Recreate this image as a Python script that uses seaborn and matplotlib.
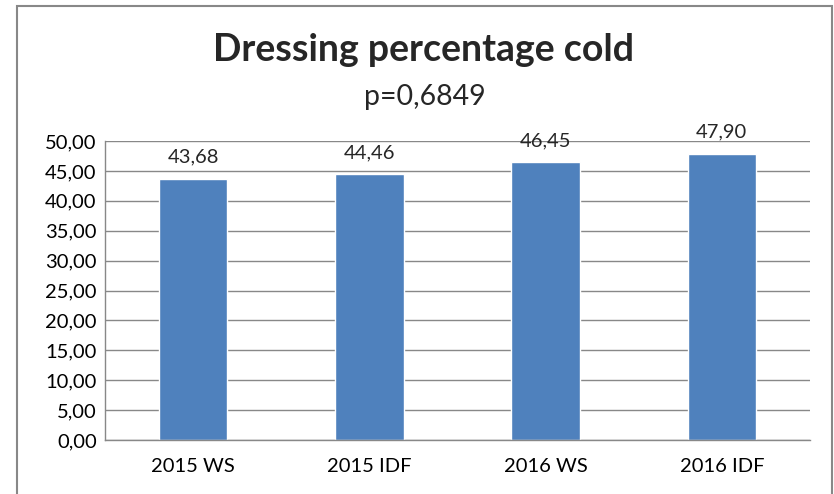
import matplotlib
matplotlib.use("Agg")
import matplotlib.pyplot as plt
import seaborn as sns
import pandas as pd
from matplotlib.patches import Rectangle
from matplotlib.ticker import FuncFormatter

categories = ["2015 WS", "2015 IDF", "2016 WS", "2016 IDF"]
values = [43.68, 44.46, 46.45, 47.90]
title = "Dressing percentage cold"
subtitle = "p=0,6849"
yticks = [0, 5, 10, 15, 20, 25, 30, 35, 40, 45, 50]

sns.set_theme(style="white")
plt.rcParams['font.family'] = ['Lato', 'DejaVu Sans']

W, H = 834, 494
fig = plt.figure(figsize=(W / 100, H / 100), dpi=100)
ax = fig.add_axes([105 / W, 1 - 440 / H, (810 - 105) / W, (440 - 141) / H])

df = pd.DataFrame({"cat": categories, "val": values})
sns.barplot(data=df, x="cat", y="val", color="#4F81BD", saturation=1, width=0.39, ax=ax)

ax.set_ylim(0, 50)
ax.set_yticks(yticks)
ax.yaxis.set_major_formatter(FuncFormatter(lambda v, p: f"{v:.2f}".replace(".", ",")))
ax.set_xlim(-0.5, len(categories) - 0.5)
ax.grid(axis="y", color="#888888", linewidth=1)
ax.set_axisbelow(True)
ax.set_xlabel("")
ax.set_ylabel("")
for s in ["top", "right"]:
    ax.spines[s].set_visible(False)
for s in ["left", "bottom"]:
    ax.spines[s].set_color("#888888")
    ax.spines[s].set_linewidth(1)
ax.tick_params(axis="both", length=0, labelsize=14.5, colors="black")
ax.tick_params(axis="y", pad=6)
ax.tick_params(axis="x", pad=13)

for i, v in enumerate(values):
    ax.annotate(f"{v:.2f}".replace(".", ","), (i, v), xytext=(0, 11.5), textcoords="offset points",
                ha="center", va="baseline", fontsize=14.5)

fig.text(424 / W, 1 - 50 / H, title, ha="center", va="center", fontsize=27, fontweight="bold")
fig.text(425 / W, 1 - 105 / H, subtitle, ha="center", va="baseline", fontsize=20.5)

fig.patches.append(Rectangle((17 / W, -0.05), (832 - 17) / W, 1 - 6 / H + 0.05,
                             transform=fig.transFigure, fill=False, edgecolor="#888888", linewidth=1.5))

fig.savefig("out.png", dpi=100)
